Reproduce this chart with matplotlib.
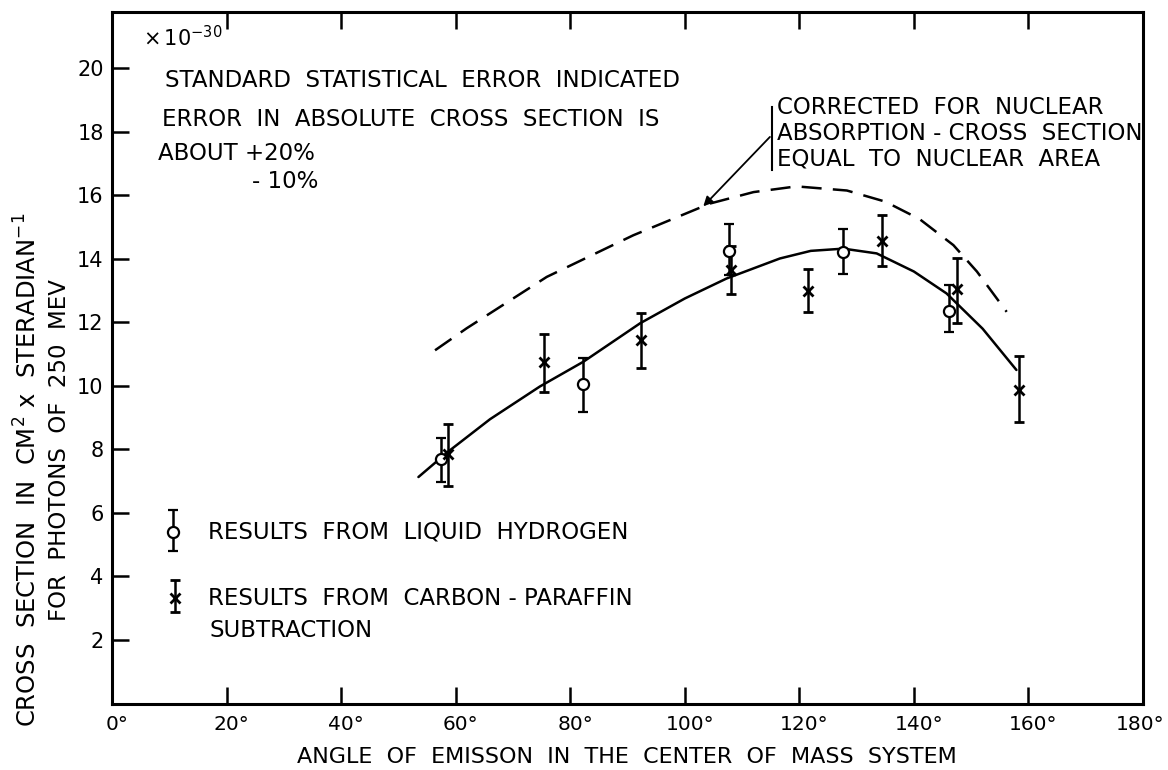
import matplotlib
matplotlib.use("Agg")
import matplotlib.pyplot as plt
import matplotlib.transforms as mtransforms

plt.rcParams['font.family'] = ['DejaVu Sans']

# ---------------- data ----------------
# Liquid hydrogen results (open circles)
h_angle = [57.4, 82.2, 107.7, 127.6, 146.1]
h_value = [7.71, 10.05, 14.25, 14.21, 12.37]
h_err_lo = [0.74, 0.86, 0.75, 0.70, 0.68]
h_err_hi = [0.64, 0.84, 0.85, 0.73, 0.81]

# Carbon-paraffin subtraction results (x)
c_angle = [58.7, 75.5, 92.4, 108.0, 121.5, 134.5, 147.5, 158.3]
c_value = [7.86, 10.76, 11.45, 13.65, 12.99, 14.56, 13.04, 9.87]
c_err_lo = [1.01, 0.94, 0.90, 0.75, 0.68, 0.79, 1.07, 1.00]
c_err_hi = [0.94, 0.87, 0.85, 0.75, 0.68, 0.82, 1.00, 1.07]

# Fitted curve (solid)
fit_angle = [53.5, 58.7, 66.0, 74.7, 82.3, 92.2, 100.0, 107.3, 116.6, 122.0,
             127.7, 133.5, 140.0, 145.7, 152.0, 157.9]
fit_value = [7.13, 7.93, 8.95, 9.98, 10.76, 11.97, 12.75, 13.38, 14.01, 14.25,
             14.32, 14.17, 13.60, 12.91, 11.80, 10.50]

# Corrected for nuclear absorption (dashed)
corr_angle = [56.4, 61.9, 75.9, 91.0, 104.4, 112.0, 119.5, 128.3, 135.0, 141.0,
              146.9, 151.0, 156.2]
corr_value = [11.12, 11.81, 13.43, 14.74, 15.74, 16.10, 16.28, 16.15, 15.80, 15.25,
              14.43, 13.60, 12.33]

x_ticks = [0, 20, 40, 60, 80, 100, 120, 140, 160, 180]
x_tick_labels = ["0°", "20°", "40°", "60°", "80°", "100°", "120°", "140°", "160°", "180°"]
y_ticks = [2, 4, 6, 8, 10, 12, 14, 16, 18, 20]
y_tick_labels = ["2", "4", "6", "8", "10", "12", "14", "16", "18", "20"]

# ---------------- figure ----------------
W, H = 1168, 770
fig = plt.figure(figsize=(W / 100, H / 100), dpi=100)
L, R, B, T = 112, 1143, 703.5, 12
ax = fig.add_axes([L / W, (H - B) / H, (R - L) / W, (B - T) / H])
ax.set_xlim(0, 180)
ax.set_ylim(0, 21.77)

lw_frame = 2.2
for s in ax.spines.values():
    s.set_linewidth(lw_frame)

ax.set_xticks(x_ticks)
ax.set_xticklabels(x_tick_labels, fontsize=14.5)
ax.set_yticks(y_ticks)
ax.set_yticklabels(y_tick_labels, fontsize=15)
ax.tick_params(axis='x', direction='in', length=12, width=1.8, pad=8,
               top=True, bottom=True)
ax.tick_params(axis='y', direction='in', length=12, width=1.8, pad=6,
               left=True, right=False)
# shift x tick labels slightly, as in the hand lettering
labs = ax.get_xticklabels()
for i, lab in enumerate(labs):
    dx = 5 if i < len(labs) - 1 else -3
    off = mtransforms.ScaledTranslation(dx / 100, 0, fig.dpi_scale_trans)
    lab.set_transform(lab.get_transform() + off)

# curves
ax.plot(fit_angle, fit_value, color='black', lw=1.8, solid_capstyle='round')
ax.plot(corr_angle, corr_value, color='black', lw=1.8, linestyle=(0, (8, 4.5)))

# data with error bars
ax.errorbar(h_angle, h_value, yerr=[h_err_lo, h_err_hi], fmt='o', ms=8,
            mfc='white', mec='black', mew=1.6, ecolor='black', elinewidth=1.8,
            capsize=3.5, capthick=1.8, zorder=4)
ax.errorbar(c_angle, c_value, yerr=[c_err_lo, c_err_hi], fmt='x', ms=7,
            mec='black', mew=2.0, ecolor='black', elinewidth=1.8,
            capsize=3.5, capthick=1.8, zorder=4)

FS = 16.5
# upper-left notes
ax.text(5.4, 20.95, r"$\times\,10^{-30}$", fontsize=15, va='center', ha='left')
ax.text(9.25, 19.6, "STANDARD  STATISTICAL  ERROR  INDICATED", fontsize=FS,
        va='center', ha='left')
ax.text(8.73, 18.37, "ERROR  IN  ABSOLUTE  CROSS  SECTION  IS", fontsize=FS,
        va='center', ha='left')
ax.text(8.03, 17.3, "ABOUT +20%", fontsize=FS, va='center', ha='left')
ax.text(24.4, 16.42, "- 10%", fontsize=FS, va='center', ha='left')

# annotation for the dashed curve
ax.plot([115.2, 115.2], [16.8, 18.79], color='black', lw=1.5)
ax.annotate("", xy=(102.9, 15.59), xytext=(115.2, 17.9),
            arrowprops=dict(arrowstyle='-|>', color='black', lw=1.3,
                            mutation_scale=14))
ax.text(116.1, 18.75, "CORRECTED  FOR  NUCLEAR", fontsize=FS, va='center', ha='left')
ax.text(116.1, 17.93, "ABSORPTION - CROSS  SECTION", fontsize=FS, va='center', ha='left')
ax.text(116.1, 17.14, "EQUAL  TO  NUCLEAR  AREA", fontsize=FS, va='center', ha='left')

# legend (hand drawn style)
ax.errorbar([10.7], [5.41], yerr=[[0.60], [0.68]], fmt='o', ms=8, mfc='white',
            mec='black', mew=1.6, ecolor='black', elinewidth=1.8, capsize=3.5,
            capthick=1.8)
ax.errorbar([11.0], [3.32], yerr=[[0.44], [0.57]], fmt='x', ms=7, mec='black',
            mew=2.0, ecolor='black', elinewidth=1.8, capsize=3.5, capthick=1.8)
ax.text(16.8, 5.40, "RESULTS  FROM  LIQUID  HYDROGEN", fontsize=FS,
        va='center', ha='left')
ax.text(16.8, 3.32, "RESULTS  FROM  CARBON - PARAFFIN", fontsize=FS,
        va='center', ha='left')
ax.text(17.1, 2.31, "SUBTRACTION", fontsize=FS, va='center', ha='left')

# axis labels
fig.text(627 / W, 1 - 757 / H, "ANGLE  OF  EMISSON  IN  THE  CENTER  OF  MASS  SYSTEM",
         fontsize=16, ha='center', va='center')
fig.text(28 / W, 1 - 470 / H,
         r"CROSS  SECTION  IN  CM$^{2}$ x  STERADIAN$^{-1}$",
         fontsize=17.5, ha='center', va='center', rotation=90)
fig.text(60 / W, 1 - 450 / H, "FOR  PHOTONS  OF  250  MEV",
         fontsize=16.5, ha='center', va='center', rotation=90)

fig.savefig("out.png", dpi=100)
